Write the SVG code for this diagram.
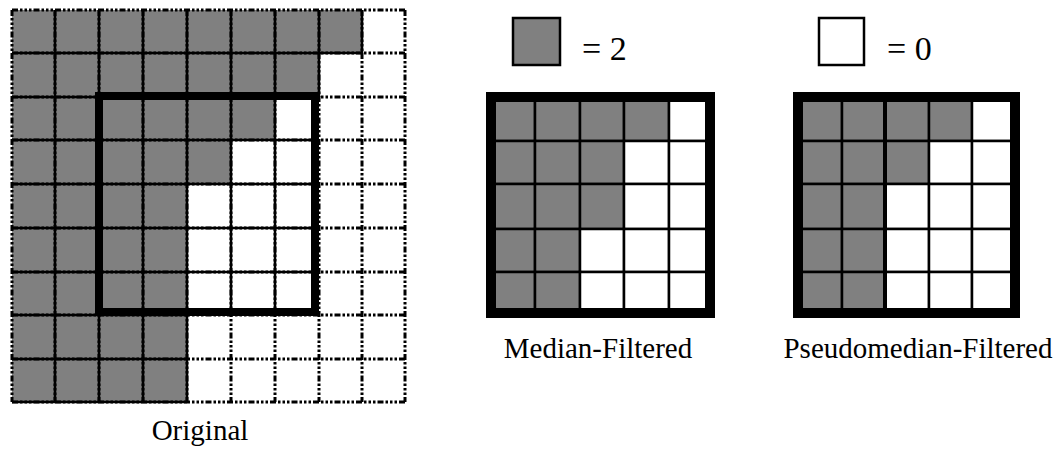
<svg xmlns="http://www.w3.org/2000/svg" width="1058" height="450" viewBox="0 0 1058 450">
<style>
.g{fill:#808080;stroke:#000;stroke-width:2.5}
.w{fill:#fff;stroke:#000;stroke-width:2.5}
.dash{fill:none;stroke:#000;stroke-width:3;stroke-dasharray:6 2 2.5 2 2.5 2 2.5 2}
.solid{fill:none;stroke:#000;stroke-width:2.5}
.thick{fill:none;stroke:#000;stroke-width:8}
.frame{fill:none;stroke:#000;stroke-width:10}
.lbl{font-family:"Liberation Serif","Times New Roman",serif;font-size:29px;fill:#000}
.leg{font-family:"Liberation Serif","Times New Roman",serif;font-size:34px;fill:#000}
</style>
<rect width="1058" height="450" fill="#fff"/>
<g id="original">
<polygon points="12,10 362,10 362,53 319,53 319,97 275,97 275,140 231,140 231,184 187,184 187,402 12,402" fill="#808080"/>
<path class="dash" d="M12,10H405M12,53H405M12,97H405M12,140H405M12,184H405M12,228H405M12,272H405M12,315H405M12,359H405M12,402H405M12,10V402M55,10V402M99,10V402M143,10V402M187,10V402M231,10V402M275,10V402M319,10V402M362,10V402M405,10V402"/>
<path class="solid" d="M12,53H362M12,97H319M12,140H319M12,184H319M12,228H319M12,272H319M12,315H187M12,359H187M12,402H187M55,10V402M99,10V402M143,10V402M187,10V402M231,10V315M275,10V315M319,10V97M362,10V53"/>
<rect class="thick" x="99" y="96" width="216" height="216"/>
</g>
<g id="legend-gray">
<rect class="g" x="513" y="18" width="47" height="47"/>
<text class="leg" x="582" y="60">= 2</text>
</g>
<g id="legend-white">
<rect class="w" x="819" y="18" width="45" height="47"/>
<text class="leg" x="887" y="60">= 0</text>
</g>
<g id="median">
<rect class="g" x="491" y="97" width="44" height="44"/><rect class="g" x="535" y="97" width="45" height="44"/><rect class="g" x="580" y="97" width="44" height="44"/><rect class="g" x="624" y="97" width="45" height="44"/><rect class="w" x="669" y="97" width="41" height="44"/>
<rect class="g" x="491" y="141" width="44" height="43"/><rect class="g" x="535" y="141" width="45" height="43"/><rect class="g" x="580" y="141" width="44" height="43"/><rect class="w" x="624" y="141" width="45" height="43"/><rect class="w" x="669" y="141" width="41" height="43"/>
<rect class="g" x="491" y="184" width="44" height="45"/><rect class="g" x="535" y="184" width="45" height="45"/><rect class="g" x="580" y="184" width="44" height="45"/><rect class="w" x="624" y="184" width="45" height="45"/><rect class="w" x="669" y="184" width="41" height="45"/>
<rect class="g" x="491" y="229" width="44" height="43"/><rect class="g" x="535" y="229" width="45" height="43"/><rect class="w" x="580" y="229" width="44" height="43"/><rect class="w" x="624" y="229" width="45" height="43"/><rect class="w" x="669" y="229" width="41" height="43"/>
<rect class="g" x="491" y="272" width="44" height="41"/><rect class="g" x="535" y="272" width="45" height="41"/><rect class="w" x="580" y="272" width="44" height="41"/><rect class="w" x="624" y="272" width="45" height="41"/><rect class="w" x="669" y="272" width="41" height="41"/>
<rect class="frame" x="491" y="97" width="219" height="216"/>
</g>
<g id="pseudomedian">
<rect class="g" x="798" y="97" width="44" height="44"/><rect class="g" x="842" y="97" width="43" height="44"/><rect class="g" x="885" y="97" width="44" height="44"/><rect class="g" x="929" y="97" width="43" height="44"/><rect class="w" x="972" y="97" width="43" height="44"/>
<rect class="g" x="798" y="141" width="44" height="43"/><rect class="g" x="842" y="141" width="43" height="43"/><rect class="g" x="885" y="141" width="44" height="43"/><rect class="w" x="929" y="141" width="43" height="43"/><rect class="w" x="972" y="141" width="43" height="43"/>
<rect class="g" x="798" y="184" width="44" height="45"/><rect class="g" x="842" y="184" width="43" height="45"/><rect class="w" x="885" y="184" width="44" height="45"/><rect class="w" x="929" y="184" width="43" height="45"/><rect class="w" x="972" y="184" width="43" height="45"/>
<rect class="g" x="798" y="229" width="44" height="43"/><rect class="g" x="842" y="229" width="43" height="43"/><rect class="w" x="885" y="229" width="44" height="43"/><rect class="w" x="929" y="229" width="43" height="43"/><rect class="w" x="972" y="229" width="43" height="43"/>
<rect class="g" x="798" y="272" width="44" height="41"/><rect class="g" x="842" y="272" width="43" height="41"/><rect class="w" x="885" y="272" width="44" height="41"/><rect class="w" x="929" y="272" width="43" height="41"/><rect class="w" x="972" y="272" width="43" height="41"/>
<line x1="885" y1="97" x2="885" y2="313" stroke="#000" stroke-width="4"/>
<rect class="frame" x="798" y="97" width="217" height="216"/>
</g>
<g id="labels">
<text class="lbl" x="200" y="440" text-anchor="middle">Original</text>
<text class="lbl" x="598" y="358" text-anchor="middle">Median-Filtered</text>
<text class="lbl" x="918" y="358" text-anchor="middle">Pseudomedian-Filtered</text>
</g>
<g id="connectors"/>
</svg>
